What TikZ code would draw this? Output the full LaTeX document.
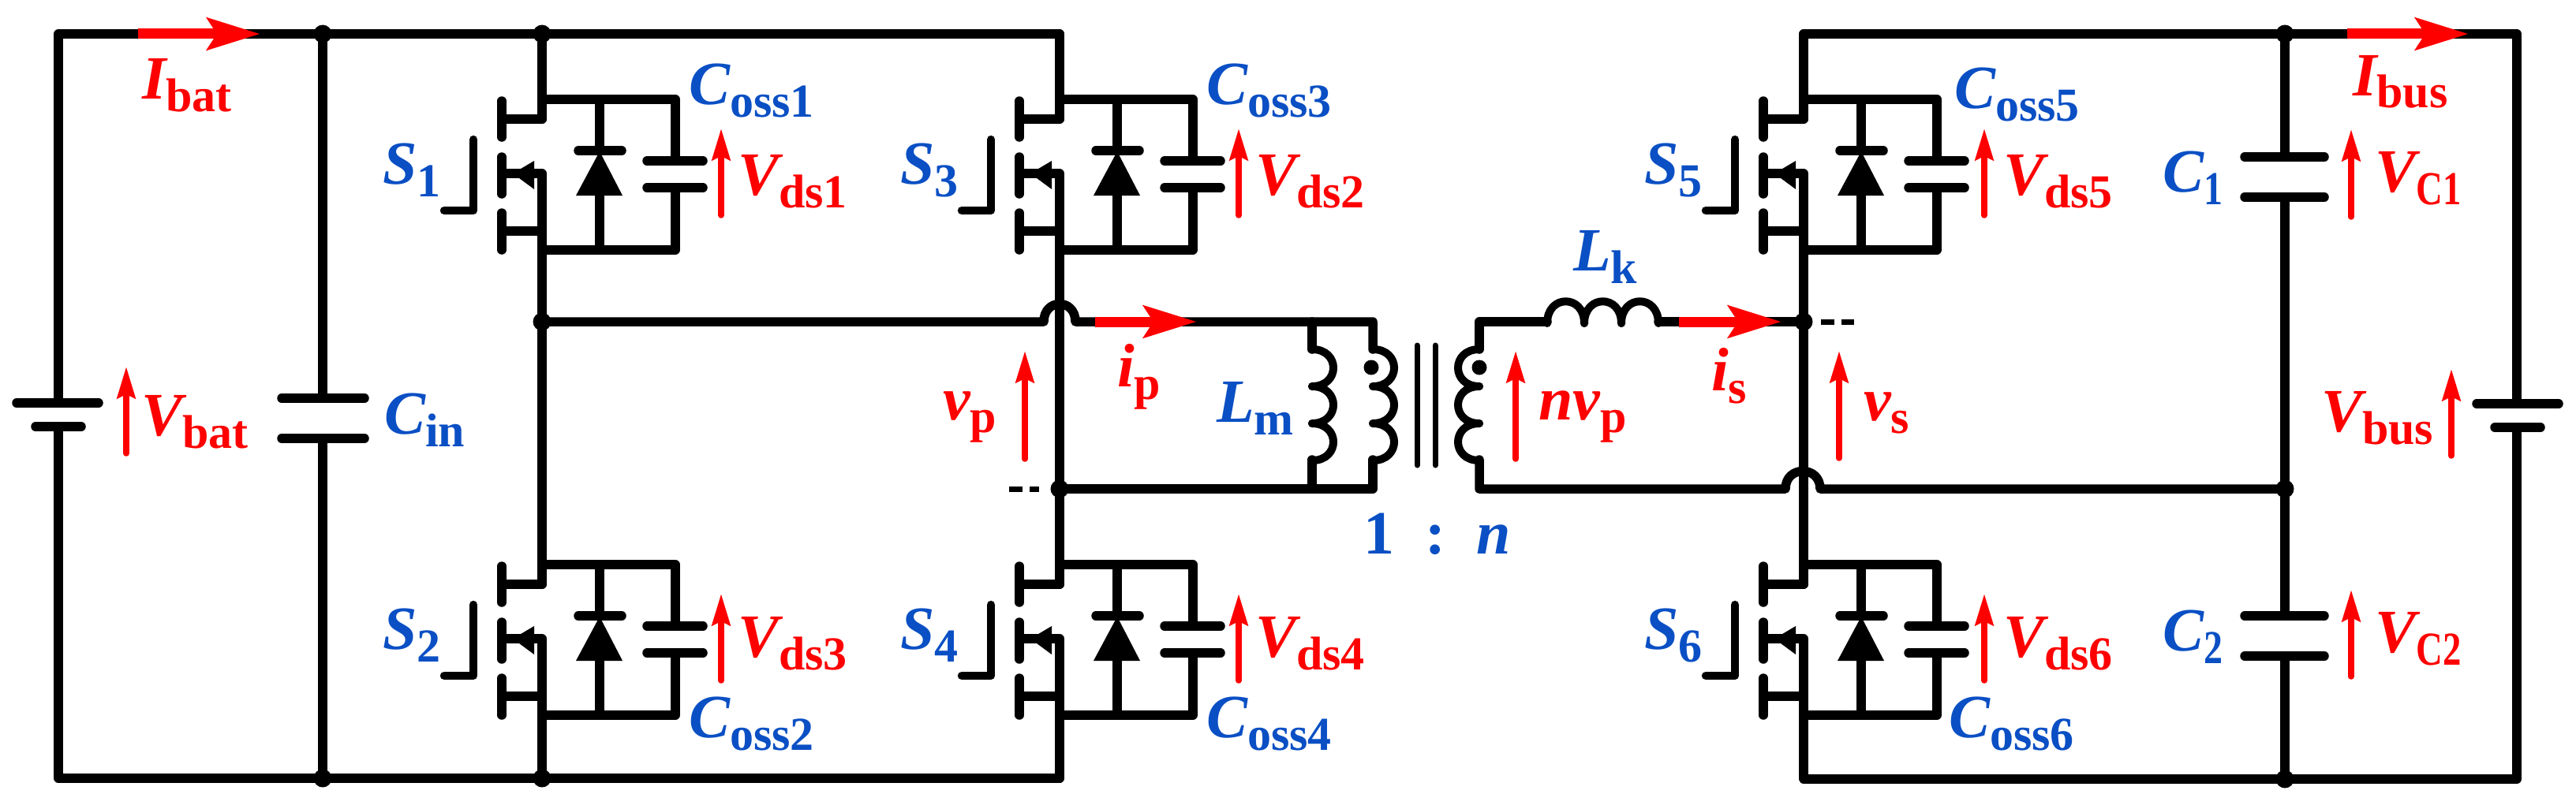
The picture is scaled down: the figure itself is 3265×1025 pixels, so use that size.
\documentclass[tikz,border=0pt]{standalone}
\usepackage{graphicx}
\usepackage{fontspec}
\setmainfont{Liberation Serif}
\usetikzlibrary{arrows.meta}
\definecolor{labblue}{HTML}{0A4FC4}
\newcommand{\sublab}[2]{{\bfseries\itshape #1}\raisebox{-16pt}{\fontsize{60}{60}\selectfont\bfseries #2}}
\tikzset{
	wire/.style={line width=11.5pt,line cap=round,line join=round},
	thinwire/.style={line width=7pt,line cap=round},
	stub/.style={line width=7pt,dash pattern=on 17pt off 9pt},
	volt/.style={draw=red,line width=7.5pt,line cap=round,-{Stealth[length=40pt,width=23pt,inset=5pt]}},
	curr/.style={draw=red,line width=13pt,-{Stealth[length=67pt,width=40pt,inset=12pt]}},
	bluelab/.style={text=labblue,anchor=base west,inner sep=0pt,font=\fontsize{78}{78}\selectfont},
	redlab/.style={text=red,anchor=base west,inner sep=0pt,font=\fontsize{78}{78}\selectfont},
	dot/.style={circle,fill=black,inner sep=0pt,minimum size=23pt}
}
\begin{document}
\begin{tikzpicture}[x=1pt,y=-1pt]
	\useasboundingbox (0,0) rectangle (3265,1025);
	% rails
	\draw[wire] (74,511)--(74,43)--(1343,43);
	\draw[wire] (74,541)--(74,987)--(1343,987);
	\draw[wire] (2286,43)--(3190,43)--(3190,512);
	\draw[wire] (2286,988)--(3190,988)--(3190,542);
	\draw[wire] (21,511)--(125,511) (45,541)--(103,541);
	\draw[wire] (3139,512)--(3243,512) (3162,542)--(3220,542);
	\draw[wire] (409,43)--(409,505) (409,556)--(409,987);
	\draw[wire] (357,505)--(462,505) (357,556)--(462,556);
	\draw[wire] (2896,43)--(2896,199) (2896,250)--(2896,781) (2896,832)--(2896,988);
	\draw[wire] (2845,199)--(2946,199) (2845,250)--(2946,250);
	\draw[wire] (2845,781)--(2946,781) (2845,832)--(2946,832);
	% bridge legs
	\foreach \xc in {687,1343,2286}{
		\draw[wire] (\xc,43)--(\xc,151) (\xc,317)--(\xc,741) (\xc,907)--(\xc,987);
	}
	% switches
	\foreach \dx/\dy in {0/0,656/0,1599/0,0/590,656/590,1599/590}{
		\begin{scope}[shift={(\dx,\dy)}]
			\draw[wire] (636,128)--(636,174) (636,199)--(636,246) (636,270)--(636,317);
			\draw[wire] (636,151)--(687,151)--(687,126)--(856,126)--(856,204);
			\draw[wire] (636,293)--(687,293);
			\draw[wire] (640,220)--(687,220)--(687,317)--(856,317)--(856,238);
			\fill[line join=round] (650,220)--(677,204)--(677,240)--cycle;
			\draw[wire] (760,126)--(760,191) (760,247)--(760,317);
			\draw[wire] (733,191)--(788,191);
			\fill (730,248)--(789,248)--(760,192)--cycle;
			\draw[wire] (820,204)--(891,204) (820,238)--(891,238);
			\draw[wire,line width=10.5pt] (600,177)--(600,267)--(563,267);
		\end{scope}
	}
	% primary side
	\draw[wire] (687,408)--(1323,408) .. controls (1323,378) and (1363,378) .. (1363,408)--(1740,408)--(1740,443);
	\draw[wire] (1343,620)--(1740,620)--(1740,583);
	\draw[wire] (1663,408)--(1663,443) (1663,583)--(1663,620);
	\foreach \yc in {443,490,537}{
		\draw[wire,line width=10pt] (1663,\yc) .. controls (1699,\yc) and (1699,\yc+47) .. (1663,\yc+47);
		\draw[wire,line width=10pt] (1740,\yc) .. controls (1776,\yc) and (1776,\yc+47) .. (1740,\yc+47);
		\draw[wire,line width=10pt] (1875,\yc) .. controls (1839,\yc) and (1839,\yc+47) .. (1875,\yc+47);
	}
	\draw[thinwire] (1796,438)--(1796,590) (1819,438)--(1819,590);
	\node[dot,minimum size=19pt] (dotp) at (1738,466) {};
	\node[dot,minimum size=19pt] (dots) at (1875,466) {};
	% secondary side
	\draw[wire] (1875,443)--(1875,408)--(1961,408);
	\foreach \xc in {1961,2008,2055}{
		\draw[wire,line width=10pt] (\xc,410) .. controls (\xc,373) and (\xc+47,373) .. (\xc+47,410);
	}
	\draw[wire] (2102,408)--(2286,408);
	\draw[wire] (1875,583)--(1875,620)--(2263,620) .. controls (2263,590) and (2307,590) .. (2307,620)--(2896,620);
	\draw[stub] (1279,620)--(1317,620) (2308,408)--(2350,408);
	% junctions
	\foreach \xc/\yc [count=\i] in {409/43,687/43,409/987,687/987,687/408,1343/620,2286/408,2896/43,2896/620,2896/988}{
		\node[dot] (j\i) at (\xc,\yc) {};
	}
	% measured quantities
	\draw[curr] (175,43)--(330,43);
	\draw[curr] (1388,408)--(1517,408);
	\draw[curr] (2128,408)--(2258,408);
	\draw[curr] (2975,43)--(3129,43);
	\foreach \xa/\yb in {914/0,1570/0,2515/0,914/590,1570/590,2515/590}{
		\draw[volt] (\xa,273+\yb)--(\xa,163+\yb);
	}
	\draw[volt] (160,575)--(160,465);
	\draw[volt] (3107,578)--(3107,468);
	\draw[volt] (2980,275)--(2980,164);
	\draw[volt] (2980,858)--(2980,748);
	\draw[volt] (1299,582)--(1299,445);
	\draw[volt] (1921,582)--(1921,445);
	\draw[volt] (2331,581)--(2331,445);
	% labels
	\node[redlab] (ibat) at (180,125) {\sublab{I}{bat}};
	\node[redlab] (ibus) at (2982,121) {\sublab{I}{bus}};
	\node[redlab] (vbat) at (179,552) {\sublab{V}{bat}};
	\node[redlab] (vbus) at (2942,547) {\sublab{V}{bus}};
	\node[bluelab] (cin) at (487,550) {\sublab{C}{in}};
	\node[bluelab] (s1) at (485,233) {\sublab{S}{1}};
	\node[bluelab] (s2) at (485,823) {\sublab{S}{2}};
	\node[bluelab] (s3) at (1141,233) {\sublab{S}{3}};
	\node[bluelab] (s4) at (1141,823) {\sublab{S}{4}};
	\node[bluelab] (s5) at (2084,233) {\sublab{S}{5}};
	\node[bluelab] (s6) at (2084,823) {\sublab{S}{6}};
	\node[bluelab] (coss1) at (873,132) {\sublab{C}{oss1}};
	\node[bluelab] (coss2) at (873,935) {\sublab{C}{oss2}};
	\node[bluelab] (coss3) at (1529,132) {\sublab{C}{oss3}};
	\node[bluelab] (coss4) at (1529,935) {\sublab{C}{oss4}};
	\node[bluelab] (coss5) at (2477,137) {\sublab{C}{oss5}};
	\node[bluelab] (coss6) at (2470,935) {\sublab{C}{oss6}};
	\node[redlab] (vds1) at (935,247) {\sublab{V}{ds1}};
	\node[redlab] (vds2) at (1591,247) {\sublab{V}{ds2}};
	\node[redlab] (vds3) at (935,833) {\sublab{V}{ds3}};
	\node[redlab] (vds4) at (1591,833) {\sublab{V}{ds4}};
	\node[redlab] (vds5) at (2539,247) {\sublab{V}{ds5}};
	\node[redlab] (vds6) at (2539,833) {\sublab{V}{ds6}};
	\node[bluelab] (c1) at (2741,243) {\sublab{C}{\scalebox{.8}[1]{1}}};
	\node[bluelab] (c2) at (2741,825) {\sublab{C}{\scalebox{.8}[1]{2}}};
	\node[redlab] (vc1) at (3010,243) {\sublab{V}{\scalebox{.78}[1]{C1}}};
	\node[redlab] (vc2) at (3010,827) {\sublab{V}{\scalebox{.78}[1]{C2}}};
	\node[redlab] (vp) at (1195,532) {\sublab{v}{p}};
	\node[redlab] (ip) at (1416,490) {\sublab{i}{p}};
	\node[redlab] (nvp) at (1950,532) {\sublab{nv}{p}};
	\node[redlab] (is) at (2169,495) {\sublab{i}{s}};
	\node[redlab] (vs) at (2362,533) {\sublab{v}{s}};
	\node[bluelab] (lm) at (1542,535) {\sublab{L}{m}};
	\node[bluelab] (lk) at (1994,343) {\sublab{L}{k}};
	\node[bluelab] (ratio) at (1728,702) {\bfseries 1\hspace{.5em}:\hspace{.5em}\itshape n};
\end{tikzpicture}
\end{document}
